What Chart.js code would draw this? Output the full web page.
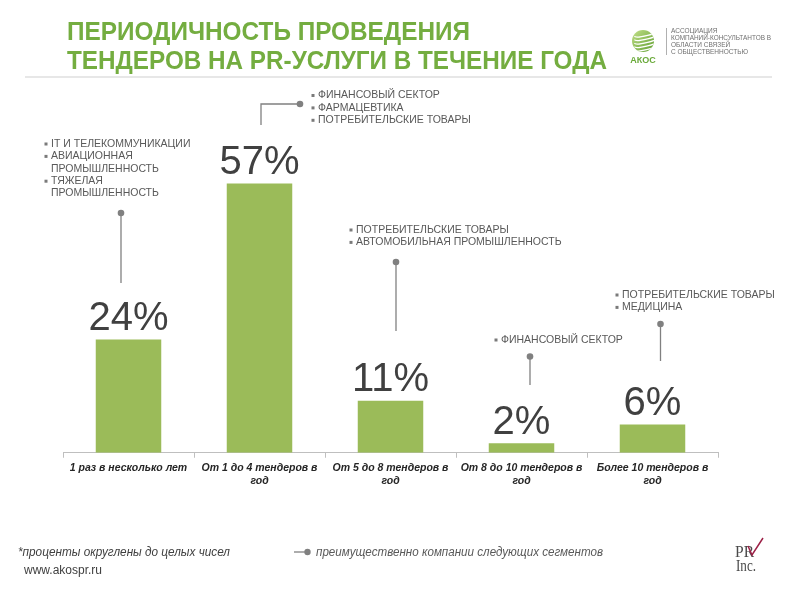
<!DOCTYPE html>
<html><head><meta charset="utf-8">
<script src="https://cdn.jsdelivr.net/npm/chart.js@4"></script>
<style>html,body{margin:0;padding:0;background:#fff;overflow:hidden}canvas{display:block}</style>
</head><body>
<canvas id="c" width="800" height="591"></canvas>
<script>
// ---- data ----
const categories = [
  ["1 раз в несколько лет"],
  ["От 1 до 4 тендеров в", "год"],
  ["От 5 до 8 тендеров в", "год"],
  ["От 8 до 10 тендеров в", "год"],
  ["Более 10 тендеров в", "год"]
];
const values = [24, 57, 11, 2, 6];
const segments = [
  [["IT И ТЕЛЕКОММУНИКАЦИИ"], ["АВИАЦИОННАЯ", "ПРОМЫШЛЕННОСТЬ"], ["ТЯЖЕЛАЯ", "ПРОМЫШЛЕННОСТЬ"]],
  [["ФИНАНСОВЫЙ СЕКТОР"], ["ФАРМАЦЕВТИКА"], ["ПОТРЕБИТЕЛЬСКИЕ ТОВАРЫ"]],
  [["ПОТРЕБИТЕЛЬСКИЕ ТОВАРЫ"], ["АВТОМОБИЛЬНАЯ ПРОМЫШЛЕННОСТЬ"]],
  [["ФИНАНСОВЫЙ СЕКТОР"]],
  [["ПОТРЕБИТЕЛЬСКИЕ ТОВАРЫ"], ["МЕДИЦИНА"]]
];
const titleLines = ["ПЕРИОДИЧНОСТЬ ПРОВЕДЕНИЯ", "ТЕНДЕРОВ НА PR-УСЛУГИ В ТЕЧЕНИЕ ГОДА"];
const logoLines = ["АССОЦИАЦИЯ", "КОМПАНИЙ-КОНСУЛЬТАНТОВ В", "ОБЛАСТИ СВЯЗЕЙ", "С ОБЩЕСТВЕННОСТЬЮ"];
const footnote = "*проценты округлены до целых чисел";
const website = "www.akospr.ru";
const legendText = "преимущественно компании следующих сегментов";

// ---- layout of callouts (positions only) ----
const callouts = [
  {type:'v', dx:-7.5, dotY:213, endY:283, tx:46, ty:144},
  {type:'elbow', dx:1.5, dotX:300, dotY:104, endY:125, tx:313, ty:95.5},
  {type:'v', dx:5.5, dotY:262, endY:331, tx:351, ty:230},
  {type:'v', dx:8.5, dotY:356.5, endY:385, tx:496, ty:340},
  {type:'v', dx:8, dotY:324, endY:361, tx:617, ty:295}
];

const GREY = '#808080';
const SANS = '"Liberation Sans", Arial, sans-serif';

const overlay = {
  id: 'overlay',
  afterDraw(chart) {
    const ctx = chart.ctx;
    ctx.save();
    // title
    ctx.fillStyle = '#74ad40';
    ctx.font = 'bold 25.5px ' + SANS;
    ctx.textBaseline = 'alphabetic';
    ctx.textAlign = 'left';
    ctx.fillText(titleLines[0], 67, 40, 403);
    ctx.fillText(titleLines[1], 67, 69, 540);
    // separator
    ctx.strokeStyle = '#d0d0d0';
    ctx.lineWidth = 1.2;
    ctx.beginPath(); ctx.moveTo(25, 77); ctx.lineTo(772, 77); ctx.stroke();

    // AKOS logo
    const cx = 643, cy = 41, r = 11;
    ctx.save();
    ctx.beginPath(); ctx.arc(cx, cy, r, 0, Math.PI*2); ctx.clip();
    const grd = ctx.createLinearGradient(cx - r, cy - r, cx + r, cy + r);
    grd.addColorStop(0, '#c3e08a'); grd.addColorStop(1, '#5e9e2e');
    ctx.fillStyle = grd;
    ctx.fillRect(cx - r, cy - r, 2*r, 2*r);
    ctx.strokeStyle = '#ffffff'; ctx.lineWidth = 1.2;
    for (let k = -r + 3; k < r; k += 3.5) {
      ctx.beginPath(); ctx.ellipse(cx + 4, cy + k, r + 2, 2.5, -0.25, 0, Math.PI); ctx.stroke();
    }
    ctx.restore();
    ctx.fillStyle = '#6aaa3a';
    ctx.font = 'bold 9px ' + SANS;
    ctx.textAlign = 'center';
    ctx.fillText('АКОС', 643, 63);
    ctx.strokeStyle = '#b0b0b0'; ctx.lineWidth = 1;
    ctx.beginPath(); ctx.moveTo(666.5, 28); ctx.lineTo(666.5, 55); ctx.stroke();
    ctx.fillStyle = '#707070';
    ctx.font = '6.5px ' + SANS;
    ctx.textAlign = 'left';
    logoLines.forEach((t, i) => ctx.fillText(t, 671, 33 + i * 7, 100));

    // value labels
    const meta = chart.getDatasetMeta(0);
    ctx.fillStyle = '#404040';
    ctx.font = '40px ' + SANS;
    ctx.textAlign = 'center';
    meta.data.forEach((bar, i) => {
      ctx.fillText(values[i] + '%', bar.x, bar.y - 9.5);
    });

    // callouts
    ctx.strokeStyle = GREY; ctx.fillStyle = GREY; ctx.lineWidth = 1.3;
    meta.data.forEach((bar, i) => {
      const c = callouts[i];
      const x = bar.x + c.dx;
      ctx.beginPath();
      if (c.type === 'elbow') {
        ctx.moveTo(x, c.endY); ctx.lineTo(x, c.dotY); ctx.lineTo(c.dotX, c.dotY);
        ctx.stroke();
        ctx.beginPath(); ctx.arc(c.dotX, c.dotY, 3.3, 0, Math.PI*2); ctx.fill();
      } else {
        ctx.moveTo(x, c.dotY); ctx.lineTo(x, c.endY); ctx.stroke();
        ctx.beginPath(); ctx.arc(x, c.dotY, 3.3, 0, Math.PI*2); ctx.fill();
      }
    });
    ctx.font = '10.5px ' + SANS;
    ctx.textAlign = 'left';
    ctx.textBaseline = 'middle';
    segments.forEach((segs, i) => {
      const c = callouts[i];
      let y = c.ty;
      segs.forEach(lines => {
        ctx.fillStyle = '#7a7a7a';
        ctx.fillRect(c.tx - 1.5, y - 1.5, 3, 3);
        ctx.fillStyle = '#595959';
        lines.forEach(t => { ctx.fillText(t, c.tx + 5, y); y += 12.4; });
      });
    });

    // footer
    ctx.textBaseline = 'alphabetic';
    ctx.fillStyle = '#404040';
    ctx.font = 'italic 12px ' + SANS;
    ctx.fillText(footnote, 18, 556, 212);
    ctx.font = '12px ' + SANS;
    ctx.fillText(website, 24, 574);
    // legend sample
    ctx.strokeStyle = GREY; ctx.fillStyle = GREY; ctx.lineWidth = 1.3;
    ctx.beginPath(); ctx.moveTo(294, 552); ctx.lineTo(306, 552); ctx.stroke();
    ctx.beginPath(); ctx.arc(307.5, 552, 3.2, 0, Math.PI*2); ctx.fill();
    ctx.fillStyle = '#595959';
    ctx.font = 'italic 12px ' + SANS;
    ctx.fillText(legendText, 316, 556, 287);

    // PR Inc logo
    ctx.fillStyle = '#4a4a4a';
    ctx.font = '16px "Liberation Serif", serif';
    ctx.textAlign = 'left';
    ctx.fillText('PR', 735, 557, 19);
    ctx.fillText('Inc.', 736, 571, 20);
    ctx.strokeStyle = '#9c2046'; ctx.lineWidth = 1.5;
    ctx.beginPath(); ctx.moveTo(748, 546); ctx.lineTo(752, 555); ctx.lineTo(763, 538); ctx.stroke();
    ctx.restore();
  }
};

new Chart(document.getElementById('c'), {
  type: 'bar',
  data: {
    labels: categories,
    datasets: [{
      data: values,
      backgroundColor: '#9bbb59',
      borderWidth: 0,
      barPercentage: 0.5,
      categoryPercentage: 1.0
    }]
  },
  options: {
    responsive: false,
    animation: false,
    devicePixelRatio: 1,
    layout: { padding: { left: 63, right: 82, top: 75, bottom: 99 } },
    plugins: { legend: { display: false }, tooltip: { enabled: false }, title: { display: false } },
    scales: {
      y: { display: false, min: 0, max: 80 },
      x: {
        grid: { display: true, drawOnChartArea: false, drawTicks: true, tickLength: 5, color: '#bfbfbf', offset: true },
        border: { display: true, color: '#bfbfbf', width: 1 },
        ticks: {
          color: '#262626',
          font: { family: SANS, size: 10.5, style: 'italic', weight: 'bold', lineHeight: 1.25 },
          padding: 4,
          maxRotation: 0, autoSkip: false
        }
      }
    }
  },
  plugins: [overlay]
});
</script>
</body></html>
